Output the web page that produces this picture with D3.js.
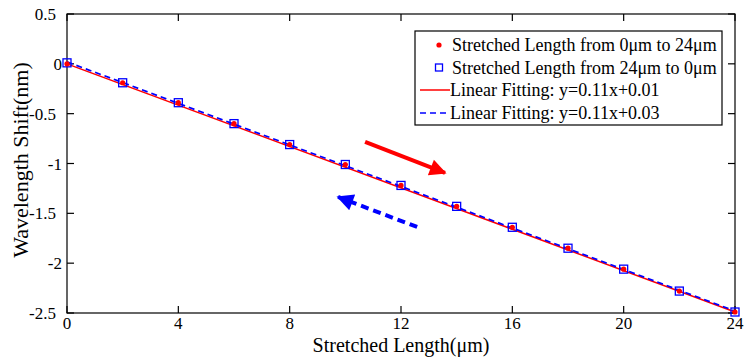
<!DOCTYPE html>
<html><head><meta charset="utf-8">
<script src="https://cdn.jsdelivr.net/npm/d3@7"></script>
<style>body{margin:0;background:#fff;} text{font-family:"Liberation Serif","Times New Roman",serif;}</style>
</head><body><svg id="c" width="746" height="358"></svg>
<script>
const xs = [0,2,4,6,8,10,12,14,16,18,20,22,24];
const upValues = [0.00,-0.19,-0.39,-0.60,-0.81,-1.01,-1.22,-1.43,-1.64,-1.85,-2.06,-2.28,-2.49];
const downValues = [0.01,-0.19,-0.39,-0.60,-0.81,-1.01,-1.22,-1.43,-1.64,-1.85,-2.06,-2.28,-2.49];
const fitX = [0,24];
const fitRed = [0.00,-2.49];
const fitBlue = [0.02,-2.48];
const xTicks = [0,4,8,12,16,20,24];
const yTicks = [0.5,0,-0.5,-1,-1.5,-2,-2.5];
const yTickLabels = ["0.5","0","-0.5","-1","-1.5","-2","-2.5"];
const legendLabels = ["Stretched Length from 0\u03bcm to 24\u03bcm","Stretched Length from 24\u03bcm to 0\u03bcm","Linear Fitting: y=0.11x+0.01","Linear Fitting: y=0.11x+0.03"];
const arrowRed = [[10.71,-0.784],[13.58,-1.095]];
const arrowBlue = [[12.58,-1.637],[9.74,-1.336]];
const xTitle = "Stretched Length(\u03bcm)";
const yTitle = "Wavelength Shift(nm)";

const svg = d3.select("#c");
const L=67,R=735,T=14,B=313;
const x = d3.scaleLinear().domain([0,24]).range([L,R]);
const y = d3.scaleLinear().domain([-2.5,0.5]).range([B,T]);
const RED="#ff0000", BLUE="#0000ff";

const defs = svg.append("defs");
function marker(id,color){
  defs.append("marker").attr("id",id).attr("viewBox","0 0 10 10").attr("refX",9).attr("refY",5)
    .attr("markerWidth",5).attr("markerHeight",4.2).attr("markerUnits","strokeWidth").attr("orient","auto")
    .append("path").attr("d","M0,0 L10,5 L0,10 Z").attr("fill",color);
}
marker("mr",RED); marker("mb",BLUE);

svg.append("rect").attr("x",L).attr("y",T).attr("width",R-L).attr("height",B-T).attr("fill","none").attr("stroke","#000").attr("stroke-width",1.2);

const tk=7;
const g = svg.append("g").attr("stroke","#000").attr("stroke-width",1.2);
xTicks.forEach(t=>{
  g.append("line").attr("x1",x(t)).attr("x2",x(t)).attr("y1",B).attr("y2",B-tk);
  g.append("line").attr("x1",x(t)).attr("x2",x(t)).attr("y1",T).attr("y2",T+tk);
});
yTicks.forEach(t=>{
  g.append("line").attr("x1",L).attr("x2",L+tk).attr("y1",y(t)).attr("y2",y(t));
  g.append("line").attr("x1",R).attr("x2",R-tk).attr("y1",y(t)).attr("y2",y(t));
});
svg.append("g").selectAll("text").data(xTicks).join("text")
  .attr("x",d=>x(d)).attr("y",329).attr("text-anchor","middle").attr("font-size",17).text(d=>d);
svg.append("g").selectAll("text").data(yTicks).join("text")
  .attr("x",(d,i)=>yTickLabels[i].includes(".")?56:62).attr("y",d=>y(d)+6).attr("text-anchor","end").attr("font-size",17)
  .text((d,i)=>yTickLabels[i]);

svg.append("text").attr("x",401).attr("y",352).attr("text-anchor","middle").attr("font-size",20).text(xTitle);
svg.append("text").attr("transform","translate(28,160) rotate(-90)").attr("text-anchor","middle").attr("font-size",22).text(yTitle);

const line = d3.line().x(d=>x(d[0])).y(d=>y(d[1]));
svg.append("path").attr("d",line(fitX.map((v,i)=>[v,fitRed[i]]))).attr("fill","none").attr("stroke",RED).attr("stroke-width",1.5);
svg.append("path").attr("d",line(fitX.map((v,i)=>[v,fitBlue[i]]))).attr("fill","none").attr("stroke",BLUE).attr("stroke-width",1.7).attr("stroke-dasharray","6,4");

const s=8;
svg.append("g").selectAll("rect").data(xs).join("rect")
  .attr("x",(d)=>x(d)-s/2).attr("y",(d,i)=>y(downValues[i])-s/2).attr("width",s).attr("height",s)
  .attr("fill","none").attr("stroke",BLUE).attr("stroke-width",1.3);
svg.append("g").selectAll("circle").data(xs).join("circle")
  .attr("cx",d=>x(d)).attr("cy",(d,i)=>y(upValues[i])).attr("r",2.6).attr("fill",RED);

svg.append("path").attr("d",line(arrowRed)).attr("stroke",RED).attr("stroke-width",4).attr("fill","none").attr("marker-end","url(#mr)");
svg.append("path").attr("d",line(arrowBlue)).attr("stroke",BLUE).attr("stroke-width",4).attr("fill","none").attr("stroke-dasharray","8,5").attr("marker-end","url(#mb)");

const lg = svg.append("g");
lg.append("rect").attr("x",415).attr("y",31).attr("width",307).attr("height",94).attr("fill","#fff").attr("stroke","#000").attr("stroke-width",1.2);
const rows=[45,68,90,113];
lg.append("circle").attr("cx",439).attr("cy",rows[0]).attr("r",2.6).attr("fill",RED);
lg.append("rect").attr("x",439-s/2+0.5).attr("y",rows[1]-s/2).attr("width",s-1).attr("height",s-1).attr("fill","none").attr("stroke",BLUE).attr("stroke-width",1.3);
lg.append("line").attr("x1",420).attr("x2",450).attr("y1",rows[2]).attr("y2",rows[2]).attr("stroke",RED).attr("stroke-width",1.5);
lg.append("line").attr("x1",420).attr("x2",450).attr("y1",rows[3]).attr("y2",rows[3]).attr("stroke",BLUE).attr("stroke-width",1.5).attr("stroke-dasharray","6,4");
lg.selectAll("text.l").data(legendLabels).join("text").attr("class","l")
  .attr("x",(d,i)=>i<2?452:450).attr("y",(d,i)=>rows[i]+6).attr("font-size",18).text(d=>d);
</script></body></html>
